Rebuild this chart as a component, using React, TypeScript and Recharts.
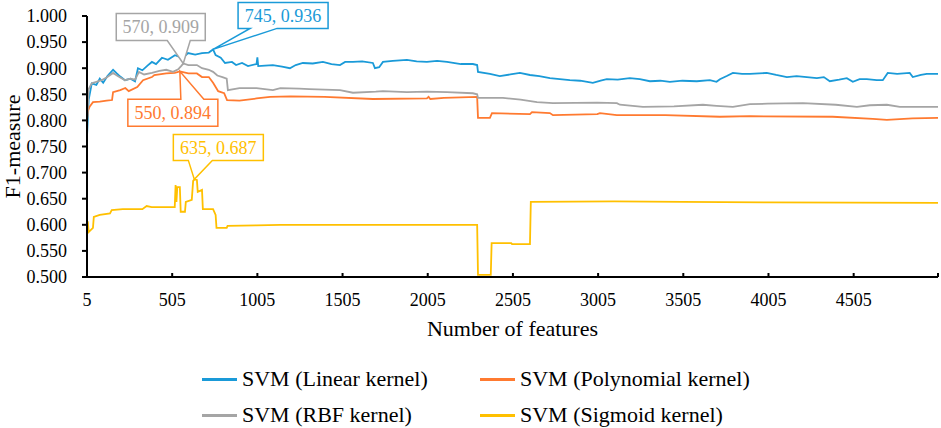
import {
  LineChart,
  Line,
  XAxis,
  YAxis,
  Legend,
  ReferenceDot,
} from "recharts";

// [number of features, F1-measure]
const linearKernel: [number, number][] = [
  [5, 0.769], [15, 0.84], [33, 0.871], [60, 0.868], [80, 0.88], [100, 0.872],
  [125, 0.885], [158, 0.897], [180, 0.89], [200, 0.884], [228, 0.877], [260, 0.88],
  [287, 0.875], [304, 0.9], [330, 0.896], [360, 0.905], [386, 0.912], [410, 0.908],
  [445, 0.92], [480, 0.916], [521, 0.925], [545, 0.922], [562, 0.918], [598, 0.929],
  [640, 0.926], [680, 0.929], [720, 0.93], [745, 0.936], [760, 0.925], [790, 0.92],
  [815, 0.91], [856, 0.912], [880, 0.906], [915, 0.91], [950, 0.904], [1000, 0.908],
  [1005, 0.921], [1010, 0.904], [1050, 0.905], [1096, 0.906], [1150, 0.903],
  [1196, 0.9], [1230, 0.906], [1272, 0.91], [1330, 0.909], [1390, 0.912],
  [1440, 0.908], [1490, 0.906], [1520, 0.912], [1566, 0.912], [1620, 0.913],
  [1683, 0.91], [1695, 0.9], [1720, 0.902], [1742, 0.912], [1800, 0.914],
  [1883, 0.916], [1940, 0.913], [2000, 0.912], [2060, 0.914], [2118, 0.912],
  [2200, 0.908], [2270, 0.908], [2295, 0.906], [2300, 0.893], [2370, 0.889],
  [2428, 0.885], [2490, 0.888], [2546, 0.891], [2605, 0.887], [2660, 0.885],
  [2722, 0.881], [2780, 0.879], [2839, 0.877], [2900, 0.876], [2974, 0.872],
  [3020, 0.876], [3056, 0.879], [3120, 0.878], [3191, 0.881], [3250, 0.879],
  [3309, 0.875], [3370, 0.876], [3426, 0.874], [3500, 0.876], [3584, 0.875],
  [3661, 0.877], [3700, 0.874], [3720, 0.879], [3760, 0.885], [3796, 0.891],
  [3850, 0.889], [3896, 0.889], [3950, 0.89], [3995, 0.891], [4050, 0.887],
  [4113, 0.883], [4170, 0.885], [4230, 0.883], [4289, 0.881], [4330, 0.883],
  [4365, 0.875], [4420, 0.878], [4465, 0.881], [4500, 0.874], [4540, 0.879],
  [4582, 0.879], [4640, 0.877], [4676, 0.877], [4705, 0.891], [4760, 0.889],
  [4834, 0.891], [4852, 0.883], [4900, 0.887], [4934, 0.889], [5000, 0.889],
];

const polynomialKernel: [number, number][] = [
  [5, 0.8], [10, 0.818], [20, 0.826], [40, 0.835], [80, 0.836], [120, 0.838],
  [152, 0.839], [158, 0.854], [200, 0.858], [230, 0.862], [250, 0.856], [300, 0.864],
  [334, 0.877], [386, 0.883], [400, 0.887], [470, 0.89], [520, 0.891], [550, 0.894],
  [600, 0.89], [650, 0.89], [680, 0.883], [720, 0.883], [745, 0.872], [775, 0.856],
  [810, 0.852], [827, 0.839], [900, 0.838], [1000, 0.842], [1080, 0.845],
  [1200, 0.846], [1400, 0.845], [1683, 0.841], [2000, 0.842], [2010, 0.845],
  [2020, 0.841], [2100, 0.843], [2295, 0.845], [2300, 0.805], [2370, 0.805],
  [2382, 0.814], [2605, 0.812], [2617, 0.816], [2722, 0.814], [2740, 0.81],
  [3000, 0.812], [3016, 0.814], [3115, 0.81], [3400, 0.81], [3720, 0.807],
  [3896, 0.808], [4382, 0.807], [4617, 0.803], [4700, 0.801], [4850, 0.804],
  [5000, 0.805],
];

const rbfKernel: [number, number][] = [
  [5, 0.795], [15, 0.86], [33, 0.871], [60, 0.874], [90, 0.877], [120, 0.882],
  [158, 0.891], [185, 0.885], [228, 0.877], [260, 0.88], [287, 0.878], [310, 0.893],
  [340, 0.888], [386, 0.891], [430, 0.895], [470, 0.897], [510, 0.893], [540, 0.898],
  [560, 0.905], [570, 0.909], [600, 0.906], [650, 0.906], [680, 0.9], [720, 0.897],
  [745, 0.893], [770, 0.886], [800, 0.883], [825, 0.88], [832, 0.858], [900, 0.862],
  [1000, 0.862], [1096, 0.858], [1140, 0.862], [1250, 0.861], [1310, 0.86],
  [1490, 0.858], [1566, 0.853], [1700, 0.855], [1742, 0.856], [1883, 0.854],
  [2000, 0.855], [2118, 0.854], [2270, 0.852], [2295, 0.85], [2300, 0.843],
  [2446, 0.843], [2550, 0.84], [2646, 0.835], [2740, 0.833], [3000, 0.834],
  [3115, 0.833], [3133, 0.83], [3268, 0.826], [3450, 0.827], [3620, 0.83],
  [3700, 0.828], [3796, 0.826], [3896, 0.831], [4000, 0.832], [4207, 0.833],
  [4400, 0.83], [4524, 0.826], [4600, 0.829], [4700, 0.83], [4776, 0.826],
  [5000, 0.826],
];

const sigmoidKernel: [number, number][] = [
  [5, 0.605], [10, 0.605], [15, 0.586], [40, 0.594], [45, 0.615], [80, 0.619],
  [140, 0.622], [150, 0.628], [215, 0.63], [330, 0.63], [355, 0.636], [385, 0.634],
  [520, 0.634], [525, 0.676], [530, 0.644], [535, 0.672], [550, 0.672], [555, 0.625],
  [580, 0.625], [585, 0.644], [620, 0.648], [628, 0.684], [635, 0.687], [650, 0.686],
  [655, 0.663], [680, 0.667], [685, 0.63], [745, 0.63], [760, 0.619], [765, 0.594],
  [825, 0.594], [830, 0.598], [1000, 0.599], [1140, 0.6], [1500, 0.6], [2000, 0.6],
  [2295, 0.6], [2300, 0.504], [2375, 0.504], [2380, 0.565], [2495, 0.565],
  [2500, 0.563], [2605, 0.563], [2610, 0.644], [3100, 0.645], [3500, 0.644],
  [4000, 0.643], [5000, 0.642],
];

const seriesNames = [
  "SVM (Linear kernel)",
  "SVM (Polynomial kernel)",
  "SVM (RBF kernel)",
  "SVM (Sigmoid kernel)",
];

const xTicks = [5, 505, 1005, 1505, 2005, 2505, 3005, 3505, 4005, 4505, 5000];
const yTicks = [0.5, 0.55, 0.6, 0.65, 0.7, 0.75, 0.8, 0.85, 0.9, 0.95, 1.0];

// best point of each kernel (linear, rbf, polynomial, sigmoid)
const calloutX = [745, 570, 550, 635];
const calloutY = [0.936, 0.909, 0.894, 0.687];

const COLORS = ["#1A9AD8", "#FF7A30", "#A5A5A5", "#FFC000"];
const FONT = '"Liberation Serif", "DejaVu Serif", serif';

const series = [linearKernel, polynomialKernel, rbfKernel, sigmoidKernel].map(
  (pts, i) => ({
    name: seriesNames[i],
    color: COLORS[i],
    data: pts.map(([x, y]) => ({ x, y })),
  }),
);

// callout box + wedge, relative to the marked point
const CALLOUTS = [
  { color: COLORS[0], box: [25, -47, 115, -21], base: [37, 64], side: "bottom" },
  { color: COLORS[2], box: [-67, -50, 22, -23], base: [-16, 7], side: "bottom" },
  { color: COLORS[1], box: [-52, 28, 38, 55], base: [1, 24], side: "top" },
  { color: COLORS[3], box: [-21, -45, 69, -19], base: [-6, 18], side: "bottom" },
];

function Callout({ cx, cy, text, cfg }: any) {
  if (cx == null || cy == null) return null;
  const [x0, y0, x1, y1] = cfg.box;
  const [wa, wb] = cfg.base;
  const d =
    cfg.side === "bottom"
      ? `M${x0},${y0}H${x1}V${y1}H${wb}L0,0L${wa},${y1}H${x0}Z`
      : `M${x0},${y0}H${wa}L0,0L${wb},${y0}H${x1}V${y1}H${x0}Z`;
  return (
    <g transform={`translate(${cx},${cy})`}>
      <path d={d} fill="#fff" stroke={cfg.color} strokeWidth={1.5} />
      <text
        x={(x0 + x1) / 2}
        y={(y0 + y1) / 2}
        dy="0.35em"
        textAnchor="middle"
        style={{ fontFamily: FONT, fontSize: 18 }}
        fill={cfg.color}
      >
        {text}
      </text>
    </g>
  );
}

function LegendBox() {
  return (
    <div
      style={{
        height: 86,
        boxSizing: "border-box",
        paddingTop: 19,
        paddingLeft: 202,
        display: "grid",
        gridTemplateColumns: "278px auto",
        gridAutoRows: "36px",
        fontFamily: FONT,
        fontSize: 22,
        color: "#000",
        overflow: "visible",
      }}
    >
      {series.map((s) => (
        <div key={s.name} style={{ display: "flex", alignItems: "center" }}>
          <span
            style={{
              display: "inline-block",
              width: 35,
              height: 3,
              background: s.color,
              marginRight: 5,
            }}
          />
          <span style={{ whiteSpace: "nowrap", fontFamily: FONT }}>{s.name}</span>
        </div>
      ))}
    </div>
  );
}

const tickStyle = { fill: "#000", fontSize: 18, fontFamily: FONT };
const titleStyle = { fill: "#000", fontSize: 22, fontFamily: FONT };

export default function App() {
  return (
    <div
      style={{
        position: "absolute",
        left: 0,
        top: 0,
        background: "#fff",
        fontFamily: FONT,
      }}
    >
      <LineChart
        width={941}
        height={428}
        margin={{ top: 16, right: 3, bottom: 0, left: 0 }}
        style={{ fontFamily: FONT }}
      >
        <XAxis
          dataKey="x"
          type="number"
          domain={[5, 5000]}
          ticks={xTicks}
          tickFormatter={(v) => (v === 5000 ? "" : String(v))}
          allowDuplicatedCategory={false}
          height={65}
          stroke="#000"
          strokeWidth={2}
          tickSize={-4}
          tickMargin={20}
          tick={tickStyle}
          label={{
            value: "Number of features",
            position: "insideBottom",
            offset: 6,
            style: titleStyle,
          }}
        />
        <YAxis
          type="number"
          domain={[0.5, 1]}
          ticks={yTicks}
          tickFormatter={(v) => v.toFixed(3)}
          width={87}
          stroke="#000"
          strokeWidth={2}
          tickSize={5}
          tickMargin={15}
          tick={tickStyle}
          label={{
            value: "F1-measure",
            angle: -90,
            position: "insideLeft",
            offset: 12,
            style: { ...titleStyle, textAnchor: "middle" },
          }}
        />
        <Legend verticalAlign="bottom" content={() => <LegendBox />} />
        {series.map((s) => (
          <Line
            key={s.name}
            data={s.data}
            dataKey="y"
            name={s.name}
            type="linear"
            stroke={s.color}
            strokeWidth={1.8}
            dot={false}
            activeDot={false}
            isAnimationActive={false}
          />
        ))}
        {calloutX.map((x, i) => (
          <ReferenceDot
            key={i}
            x={x}
            y={calloutY[i]}
            r={0}
            ifOverflow="visible"
            shape={(p: any) => (
              <Callout
                cx={p.cx}
                cy={p.cy}
                cfg={CALLOUTS[i]}
                text={`${x}, ${calloutY[i].toFixed(3)}`}
              />
            )}
          />
        ))}
      </LineChart>
    </div>
  );
}
